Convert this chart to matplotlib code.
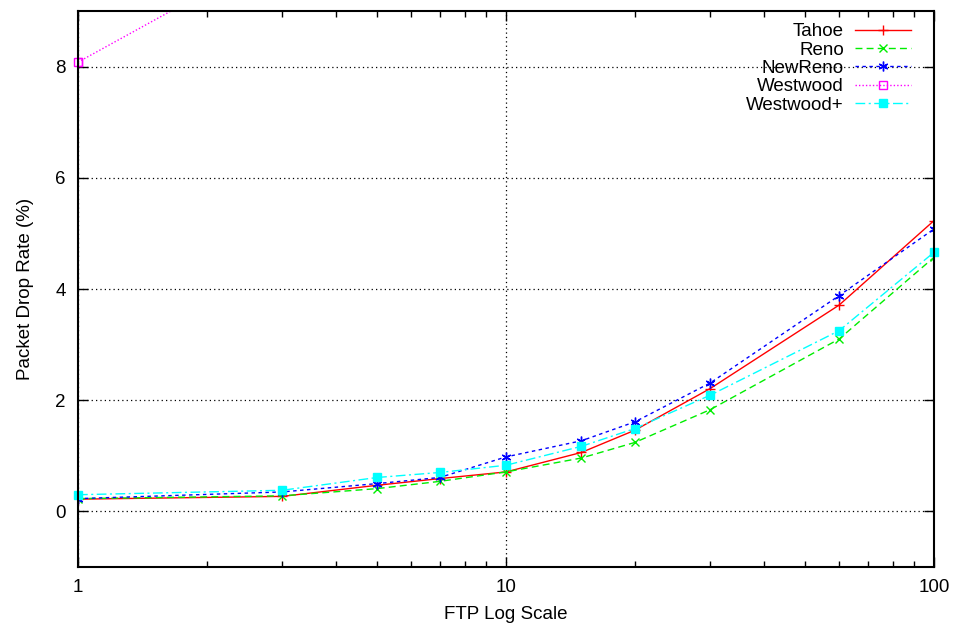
import matplotlib
matplotlib.use('Agg')
import matplotlib.pyplot as plt
from matplotlib.ticker import FixedLocator, LogLocator, NullFormatter, FixedFormatter

# FTP connections (x) and packet drop rate in % for each TCP variant
ftp = [1, 3, 5, 7, 10, 15, 20, 30, 60, 100]
tahoe = [0.22, 0.27, 0.47, 0.59, 0.71, 1.06, 1.46, 2.21, 3.71, 5.23]
reno = [0.23, 0.28, 0.41, 0.54, 0.71, 0.96, 1.24, 1.83, 3.10, 4.57]
newreno = [0.23, 0.35, 0.50, 0.61, 0.98, 1.27, 1.61, 2.31, 3.88, 5.08]
# only the first point is inside the plotted range, the rest runs off the top
westwood = [8.08, 10.1, 11.4, 12.3, 13.1, 14.0, 14.7, 15.6, 17.1, 18.3]
westwood_plus = [0.30, 0.38, 0.61, 0.70, 0.83, 1.17, 1.49, 2.09, 3.25, 4.66]

y_ticks = [0, 2, 4, 6, 8]
x_ticks = [1, 10, 100]
x_tick_labels = ['1', '10', '100']

plt.rcParams['font.family'] = ['Liberation Sans', 'DejaVu Sans']
plt.rcParams['font.size'] = 13.5
plt.rcParams['axes.linewidth'] = 1.5
plt.rcParams['xtick.direction'] = 'in'
plt.rcParams['ytick.direction'] = 'in'

fig = plt.figure(figsize=(9.55, 6.23), dpi=100)
ax = fig.add_axes([78 / 955, 1 - 567 / 623, (934 - 78) / 955, (567 - 11) / 623])

ms = 6
ax.plot(ftp, tahoe, color='#ff0000', linestyle='-', linewidth=1, marker='+',
        markersize=ms + 1, label='Tahoe')
ax.plot(ftp, reno, color='#00ee00', linestyle=(0, (5, 3)), linewidth=1, marker='x',
        markersize=ms, label='Reno')
ax.plot(ftp, newreno, color='#0000ff', linestyle=(0, (2.5, 2.5)), linewidth=1, marker=(6, 2, 0),
        markersize=ms + 1, label='NewReno')
ax.plot(ftp, westwood, color='#ff00ff', linestyle=(0, (1, 1.5)), linewidth=1, marker='s',
        markerfacecolor='none', markersize=ms, label='Westwood')
ax.plot(ftp, westwood_plus, color='#00ffff', linestyle=(0, (7, 2.5, 1.5, 2.5)), linewidth=1,
        marker='s', markersize=ms, clip_on=False, label='Westwood+')
# first Westwood marker sits on the left frame, draw it unclipped
ax.plot(ftp[:1], westwood[:1], color='#ff00ff', linestyle='none', marker='s',
        markerfacecolor='none', markersize=ms, clip_on=False)

ax.set_xscale('log')
ax.set_xlim(1, 100)
ax.set_ylim(-1, 9)

ax.xaxis.set_major_locator(FixedLocator(x_ticks))
ax.xaxis.set_major_formatter(FixedFormatter(x_tick_labels))
ax.xaxis.set_minor_locator(LogLocator(base=10, subs=range(2, 10)))
ax.xaxis.set_minor_formatter(NullFormatter())
ax.set_yticks(y_ticks)

ax.tick_params(which='both', top=True, right=True, width=1)
ax.tick_params(which='major', length=7, pad=9)
ax.tick_params(which='minor', length=4)

ax.grid(True, which='major', color='black', linestyle=(0, (1, 2.5)), linewidth=0.9)

ax.set_xlabel('FTP Log Scale', labelpad=7)
ax.set_ylabel('Packet Drop Rate (%)', labelpad=15)

leg = ax.legend(loc='upper right', bbox_to_anchor=(0.989, 1.002), frameon=False,
                markerfirst=False, handlelength=3.0, handletextpad=0.6,
                labelspacing=0.07, borderpad=0.2)

fig.savefig('out.png', dpi=100)
